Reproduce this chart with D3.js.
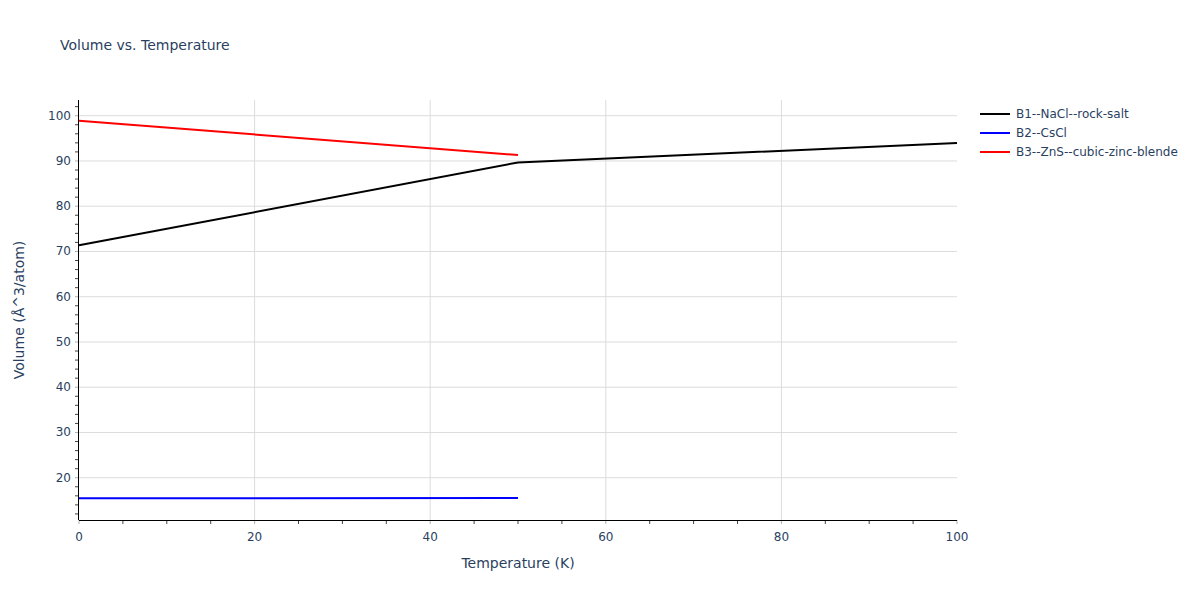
<!DOCTYPE html>
<html lang="en">
<head>
	<meta charset="utf-8">
	<script src="https://cdn.jsdelivr.net/npm/d3@7"></script>
	<style>
		body {margin:0; background:#fff;}
		text {font-family: "DejaVu Sans", "Open Sans", sans-serif; fill: #2a3f5f;}
	</style>
</head>
<body>
<script>
	// data
	var seriesNames = ["B1--NaCl--rock-salt", "B2--CsCl", "B3--ZnS--cubic-zinc-blende"];
	var seriesColors = ["#000000", "#0000ff", "#ff0000"];
	var b1Temp = [0, 50, 100];
	var b1Vol = [71.35, 89.67, 93.97];
	var b2Temp = [0, 50];
	var b2Vol = [15.45, 15.5];
	var b3Temp = [0, 50];
	var b3Vol = [98.9, 91.3];
	var xTicks = [0, 20, 40, 60, 80, 100];
	var yTicks = [20, 30, 40, 50, 60, 70, 80, 90, 100];

	var series = [
		{name: seriesNames[0], color: seriesColors[0], t: b1Temp, v: b1Vol},
		{name: seriesNames[1], color: seriesColors[1], t: b2Temp, v: b2Vol},
		{name: seriesNames[2], color: seriesColors[2], t: b3Temp, v: b3Vol}
	];

	var W = 1200, H = 600;
	var margin = {top: 100, right: 243, bottom: 80, left: 79};
	var width = W - margin.left - margin.right,
		height = H - margin.top - margin.bottom;

	var svg = d3.select("body").append("svg")
		.attr("width", W)
		.attr("height", H);

	var g = svg.append("g")
		.attr("transform", "translate(" + margin.left + "," + margin.top + ")");

	var x = d3.scaleLinear().domain([0, 100]).range([0, width]);
	var y = d3.scaleLinear().domain([10.66, 103.47]).range([height, 0]);

	// grid
	g.selectAll(".xgrid").data(xTicks.filter(function(d){return d > 0 && d < 100;})).enter()
		.append("line")
		.attr("x1", function(d){return x(d);})
		.attr("x2", function(d){return x(d);})
		.attr("y1", 0).attr("y2", height)
		.attr("stroke", "#dcdcdc").attr("stroke-width", 1);

	g.selectAll(".ygrid").data(yTicks).enter()
		.append("line")
		.attr("x1", 0).attr("x2", width)
		.attr("y1", function(d){return y(d);})
		.attr("y2", function(d){return y(d);})
		.attr("stroke", "#dcdcdc").attr("stroke-width", 1);

	// minor ticks
	var xMinor = d3.range(0, 101, 5);
	var yMinor = d3.range(12, 104, 2);

	g.selectAll(".xminor").data(xMinor).enter()
		.append("line")
		.attr("x1", function(d){return x(d);})
		.attr("x2", function(d){return x(d);})
		.attr("y1", height).attr("y2", height + 4)
		.attr("stroke", function(d){return d % 20 === 0 ? "#b0b0b0" : "#444";})
		.attr("stroke-width", 1);

	g.selectAll(".yminor").data(yMinor).enter()
		.append("line")
		.attr("x1", -4).attr("x2", 0)
		.attr("y1", function(d){return y(d);})
		.attr("y2", function(d){return y(d);})
		.attr("stroke", function(d){return d % 10 === 0 ? "#b0b0b0" : "#444";})
		.attr("stroke-width", 1);

	// axis lines
	g.append("line").attr("x1", 0).attr("x2", width)
		.attr("y1", height + 0.5).attr("y2", height + 0.5)
		.attr("stroke", "#000").attr("stroke-width", 1);
	g.append("line").attr("x1", -0.5).attr("x2", -0.5)
		.attr("y1", 0).attr("y2", height)
		.attr("stroke", "#000").attr("stroke-width", 1);

	// tick labels
	g.selectAll(".xlab").data(xTicks).enter()
		.append("text")
		.attr("x", function(d){return x(d);})
		.attr("y", height + 21)
		.attr("text-anchor", "middle")
		.attr("font-size", 12)
		.text(function(d){return d;});

	g.selectAll(".ylab").data(yTicks).enter()
		.append("text")
		.attr("x", -8)
		.attr("y", function(d){return y(d) + 4;})
		.attr("text-anchor", "end")
		.attr("font-size", 12)
		.text(function(d){return d;});

	// lines
	var line = d3.line()
		.x(function(d){return x(d[0]);})
		.y(function(d){return y(d[1]);});

	series.forEach(function(s) {
		var pts = s.t.map(function(t, i){return [t, s.v[i]];});
		g.append("path")
			.datum(pts)
			.attr("d", line)
			.attr("fill", "none")
			.attr("stroke", s.color)
			.attr("stroke-width", 2);
	});

	// axis titles
	svg.append("text")
		.attr("x", margin.left + width / 2)
		.attr("y", 568)
		.attr("text-anchor", "middle")
		.attr("font-size", 14)
		.text("Temperature (K)");

	svg.append("text")
		.attr("transform", "translate(24," + (margin.top + height / 2) + ") rotate(-90)")
		.attr("text-anchor", "middle")
		.attr("font-size", 14)
		.text("Volume (Å^3/atom)");

	// title
	svg.append("text")
		.attr("x", 60)
		.attr("y", 50)
		.attr("font-size", 14)
		.text("Volume vs. Temperature");

	// legend
	var legend = svg.append("g").attr("transform", "translate(980,114)");
	series.forEach(function(s, i) {
		var row = legend.append("g").attr("transform", "translate(0," + (i * 19) + ")");
		row.append("line")
			.attr("x1", 0).attr("x2", 30)
			.attr("y1", 0).attr("y2", 0)
			.attr("stroke", s.color).attr("stroke-width", 2);
		row.append("text")
			.attr("x", 36)
			.attr("y", 4)
			.attr("font-size", 12)
			.text(s.name);
	});
</script>
</body>
</html>
